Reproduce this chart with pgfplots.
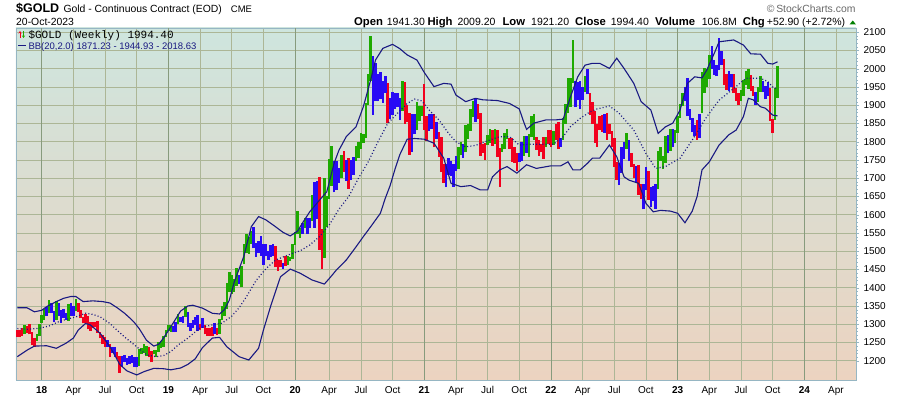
\documentclass[border=0pt]{standalone}
\usepackage{fontspec}
\setmainfont{Liberation Sans}
\newfontfamily\monofont{Liberation Mono}
\usepackage{pgfplots}
\usepackage{pgfplotstable}
\usetikzlibrary{arrows.meta}
\pgfplotsset{compat=1.18}
\definecolor{gbar}{RGB}{30,170,0}
\definecolor{rbar}{RGB}{242,0,30}
\definecolor{bbar}{RGB}{40,10,245}
\definecolor{bandc}{RGB}{25,25,130}
\definecolor{bgtop}{RGB}{206,229,222}
\definecolor{bgmid}{RGB}{241,231,170}
\definecolor{bgbot}{RGB}{236,211,192}
\definecolor{gridc}{RGB}{172,182,150}
\definecolor{yearc}{RGB}{135,155,125}
\definecolor{axisc}{RGB}{150,182,195}
\definecolor{graytxt}{RGB}{105,105,105}
\definecolor{tri}{RGB}{0,128,0}
% c: 1 = green (up), 2 = red (down), 3 = blue (neutral)
\pgfplotstableread{
i h l c
0 1283 1264 2
1 1285 1266 2
2 1290 1268 2
3 1298 1272 1
4 1296 1275 2
5 1300 1272 2
6 1280 1244 2
7 1262 1238 2
8 1272 1254 1
9 1300 1268 1
10 1326 1302 1
11 1341 1311 1
12 1346 1322 3
13 1366 1330 1
14 1358 1331 3
15 1337 1306 3
16 1364 1311 1
17 1357 1323 3
18 1340 1303 3
19 1343 1318 3
20 1330 1312 3
21 1356 1310 1
22 1358 1323 3
23 1350 1322 3
24 1369 1335 1
25 1357 1334 2
26 1339 1316 2
27 1319 1302 2
28 1328 1304 2
29 1322 1286 2
30 1307 1282 2
31 1306 1290 2
32 1306 1291 2
33 1310 1276 2
34 1279 1261 2
35 1271 1246 2
36 1265 1237 2
37 1258 1238 3
38 1246 1211 2
39 1237 1222 3
40 1237 1211 3
41 1224 1206 2
42 1212 1167 2
43 1214 1183 3
44 1215 1196 3
45 1207 1189 3
46 1214 1190 3
47 1215 1194 3
48 1211 1183 3
49 1209 1182 3
50 1233 1186 1
51 1236 1218 1
52 1245 1222 1
53 1240 1212 1
54 1238 1209 2
55 1226 1196 2
56 1230 1218 1
57 1230 1211 1
58 1252 1225 1
59 1253 1236 1
60 1268 1238 1
61 1285 1264 1
62 1299 1281 1
63 1298 1280 1
64 1296 1278 3
65 1305 1278 3
66 1327 1300 1
67 1321 1306 3
68 1323 1302 3
69 1349 1320 1
70 1334 1293 3
71 1302 1281 3
72 1312 1290 3
73 1321 1297 3
74 1326 1281 3
75 1300 1285 2
76 1316 1289 3
77 1297 1272 2
78 1290 1268 2
79 1290 1267 2
80 1292 1269 2
81 1303 1273 3
82 1289 1270 2
83 1313 1274 1
84 1349 1311 1
85 1360 1323 1
86 1412 1343 1
87 1442 1389 1
88 1434 1383 1
89 1425 1389 1
90 1453 1405 1
91 1435 1411 3
92 1459 1401 1
93 1520 1464 1
94 1546 1495 1
95 1540 1493 1
96 1555 1520 1
97 1566 1508 3
98 1523 1485 3
99 1527 1496 3
100 1542 1488 3
101 1520 1463 3
102 1519 1486 3
103 1501 1477 3
104 1518 1484 3
105 1520 1488 3
106 1514 1456 2
107 1475 1446 2
108 1477 1456 2
109 1468 1452 3
110 1487 1459 2
111 1486 1461 1
112 1485 1473 1
113 1519 1480 1
114 1553 1518 1
115 1611 1546 1
116 1563 1536 1
117 1576 1547 3
118 1592 1564 1
119 1590 1548 3
120 1591 1565 3
121 1653 1584 1
122 1691 1565 3
123 1692 1588 3
124 1704 1504 2
125 1560 1451 2
126 1700 1482 1
127 1650 1567 1
128 1753 1644 1
129 1788 1680 1
130 1747 1661 3
131 1747 1669 3
132 1729 1688 3
133 1765 1700 1
134 1775 1718 2
135 1750 1693 3
136 1755 1671 2
137 1750 1695 3
138 1758 1709 3
139 1789 1748 1
140 1800 1756 1
141 1825 1779 1
142 1820 1796 1
143 1905 1810 1
144 1985 1900 1
145 2089 1966 1
146 2036 1874 3
147 2015 1911 3
148 1987 1911 3
149 1992 1916 3
150 1967 1907 3
151 1981 1934 3
152 1960 1851 2
153 1920 1862 3
154 1936 1873 3
155 1933 1890 3
156 1934 1894 3
157 1920 1859 3
158 1966 1885 1
159 1965 1849 2
160 1900 1855 2
161 1879 1764 2
162 1875 1772 3
163 1876 1820 3
164 1908 1831 1
165 1897 1856 1
166 1898 1870 1
167 1959 1832 2
168 1870 1803 2
169 1876 1830 3
170 1875 1834 3
171 1875 1785 2
172 1855 1808 3
173 1826 1759 2
174 1814 1717 2
175 1740 1687 2
176 1740 1676 3
177 1755 1710 3
178 1748 1705 3
179 1740 1677 3
180 1760 1720 3
181 1785 1724 1
182 1798 1763 1
183 1793 1756 3
184 1845 1771 1
185 1849 1808 1
186 1890 1829 1
187 1913 1867 1
188 1919 1855 3
189 1904 1862 2
190 1880 1761 2
191 1795 1769 2
192 1797 1750 2
193 1818 1790 1
194 1834 1796 1
195 1833 1789 2
196 1834 1794 1
197 1832 1759 2
198 1784 1677 2
199 1795 1773 1
200 1823 1779 1
201 1836 1807 1
202 1810 1781 2
203 1809 1745 2
204 1786 1742 2
205 1770 1721 2
206 1770 1745 3
207 1800 1747 3
208 1815 1762 1
209 1815 1770 3
210 1820 1758 1
211 1870 1812 1
212 1877 1805 1
213 1813 1778 2
214 1806 1762 2
215 1793 1771 2
216 1813 1753 2
217 1814 1787 1
218 1831 1794 2
219 1831 1785 2
220 1830 1791 1
221 1848 1806 2
222 1854 1780 2
223 1809 1785 3
224 1865 1805 1
225 1904 1850 1
226 1976 1878 1
227 1975 1895 1
228 2079 1961 1
229 1967 1895 3
230 1965 1914 3
231 1967 1890 3
232 1949 1915 3
233 1980 1937 1
234 2000 1930 3
235 1935 1872 2
236 1909 1850 2
237 1885 1797 2
238 1850 1786 2
239 1870 1832 2
240 1874 1828 2
241 1876 1825 3
242 1880 1805 2
243 1848 1822 2
244 1830 1785 2
245 1811 1732 2
246 1745 1696 2
247 1742 1681 3
248 1785 1715 3
249 1800 1754 3
250 1824 1780 1
251 1805 1747 3
252 1770 1731 2
253 1740 1700 2
254 1733 1691 3
255 1735 1655 2
256 1683 1643 2
257 1683 1615 3
258 1730 1667 3
259 1720 1641 2
260 1675 1621 3
261 1680 1638 3
262 1684 1616 3
263 1774 1670 1
264 1786 1747 1
265 1762 1725 1
266 1816 1742 1
267 1819 1768 3
268 1835 1776 1
269 1836 1785 3
270 1833 1797 1
271 1871 1825 1
272 1903 1865 1
273 1935 1898 1
274 1950 1911 3
275 1975 1870 3
276 1890 1861 3
277 1866 1826 3
278 1846 1815 3
279 1860 1806 2
280 1876 1810 3
281 1991 1880 1
282 2003 1934 1
283 2000 1949 1
284 2039 1972 1
285 2063 1999 3
286 2023 1983 3
287 2010 1980 3
288 2085 1996 3
289 2048 2010 3
290 2027 1955 2
291 1987 1942 2
292 1995 1938 3
293 1985 1950 3
294 1985 1934 2
295 1947 1912 2
296 1935 1900 2
297 1941 1912 1
298 1968 1926 1
299 1995 1956 1
300 2000 1945 1
301 1982 1939 2
302 1952 1925 2
303 1936 1902 3
304 1949 1910 1
305 1980 1937 1
306 1967 1937 3
307 1952 1916 3
308 1965 1925 3
309 1948 1858 2
310 1863 1823 2
311 1947 1860 1
312 2009 1921 1
}\bars
\pgfplotstableread{
i v
0 1345
4 1345
7 1334
10 1338
12 1348
16 1362
19 1371
22 1376
24 1376
27 1362
31 1364
35 1362
38 1358
41 1345
44 1330
46 1318
48 1305
50 1288
53 1256
56 1240
58 1245
60 1262
63 1293
67 1336
70 1350
72 1352
76 1344
80 1330
83 1328
85 1340
87 1366
89 1415
93 1487
96 1567
99 1595
102 1586
106 1567
109 1552
112 1542
115 1555
117 1577
120 1608
124 1640
127 1663
130 1741
132 1777
135 1814
139 1841
142 1896
145 1969
147 2024
150 2056
154 2067
157 2055
160 2038
164 2024
167 1990
171 1951
175 1960
178 1958
180 1928
184 1910
188 1919
191 1915
197 1913
202 1905
206 1890
208 1851
209 1834
212 1851
217 1860
221 1860
224 1862
227 1923
230 1978
233 2010
236 2015
239 2015
243 2001
246 2029
249 2001
253 1960
256 1910
260 1887
263 1823
266 1841
269 1851
272 1887
275 1960
278 1978
281 1975
283 1997
286 2042
288 2074
294 2079
298 2065
301 2041
305 2040
308 2015
310 2013
312 2019
}\bbup
\pgfplotstableread{
i v
0 1288
4 1286
9 1289
13 1295
17 1307
21 1315
24 1320
28 1330
31 1327
34 1320
38 1302
41 1283
44 1265
49 1238
53 1216
57 1211
60 1214
63 1225
66 1243
70 1262
75 1290
80 1298
84 1303
88 1322
91 1345
94 1375
98 1420
102 1452
106 1476
112 1492
116 1501
120 1517
124 1540
128 1572
132 1615
136 1650
140 1700
144 1745
148 1800
152 1850
156 1878
160 1905
163 1917
166 1912
169 1887
173 1860
177 1823
180 1800
184 1786
188 1790
194 1805
198 1814
202 1814
206 1791
210 1793
214 1793
220 1793
224 1814
227 1841
231 1864
235 1882
238 1890
243 1898
247 1878
253 1832
258 1768
262 1727
266 1732
272 1755
277 1805
283 1869
288 1914
294 1946
299 1974
305 1974
308 1965
310 1950
312 1945
}\bbmid
\pgfplotstableread{
i v
0 1211
4 1229
7 1240
12 1241
16 1234
20 1248
23 1262
25 1284
28 1302
30 1298
34 1275
38 1238
40 1215
42 1190
45 1172
49 1161
52 1170
56 1179
60 1178
63 1175
67 1180
70 1190
73 1205
76 1236
80 1262
83 1264
86 1238
91 1211
95 1202
99 1234
101 1284
104 1350
108 1430
112 1451
116 1440
121 1421
126 1410
128 1425
131 1449
135 1476
139 1512
142 1540
145 1567
149 1604
151 1645
153 1680
155 1725
157 1765
160 1807
163 1809
167 1807
171 1796
175 1755
178 1686
182 1677
186 1680
190 1668
193 1668
195 1704
198 1723
201 1732
205 1714
209 1737
213 1727
219 1734
223 1734
226 1745
228 1723
231 1723
234 1741
236 1755
239 1755
243 1791
246 1759
249 1704
251 1695
255 1686
258 1631
261 1608
264 1612
268 1610
271 1604
274 1578
277 1610
279 1650
281 1723
284 1745
288 1791
292 1819
295 1832
298 1869
300 1919
302 1915
305 1896
307 1892
310 1873
312 1871
}\bblow
\pgfplotsset{
  ohlc/.style 2 args={mark=none, line width=2.5pt, draw=#2,
    quiver={u=0, v=\thisrow{h}-\thisrow{l}},
    restrict expr to domain={\thisrow{c}}{#1:#1}},
}
\begin{document}
\begin{tikzpicture}[x=1pt,y=1pt]
\path[use as bounding box] (0,0) rectangle (900,396);
\fill[white] (0,0) rectangle (900,396);
\begin{axis}[
  at={(16pt,16pt)}, anchor=south west,
  scale only axis, width=840pt, height=352pt,
  xmin=-0.55, xmax=344.2, ymin=1147.1, ymax=2111.8,
  axis background/.style={shade, top color=bgtop, middle color=bgmid, bottom color=bgbot},
  axis line style={draw=axisc, line width=0.8pt},
  xtick={10,23,36,49,62,75,88,101,114,128,141,154,167,180,193,206,219,232,245,258,271,284,297,310,323,336},
  xticklabels={\textbf{18},Apr,Jul,Oct,\textbf{19},Apr,Jul,Oct,\textbf{20},Apr,Jul,Oct,\textbf{21},Apr,Jul,Oct,\textbf{22},Apr,Jul,Oct,\textbf{23},Apr,Jul,Oct,\textbf{24},Apr},
  extra x ticks={10,62,114,167,219,271,323},
  extra x tick labels={},
  extra x tick style={grid style={draw=yearc, line width=0.9pt}},
  ytick={1200,1250,...,2100},
  minor y tick num=4,
  yticklabel pos=right, ytick pos=right,
  xtick pos=bottom,
  tick align=outside,
  xtick style={draw=none},
  ytick style={draw=axisc},
  major tick length=3pt, minor tick length=1.5pt,
  grid=major,
  grid style={draw=gridc, line width=0.7pt},
  scaled y ticks=false,
  /pgf/number format/1000 sep={},
  /pgf/number format/assume math mode=true,
  tick label style={font=\fontsize{10}{12}\selectfont},
  yticklabel style={xshift=1pt},
  clip=true,
]
\addplot[ohlc={1}{gbar}] table[x=i, y=l] {\bars};
\addplot[ohlc={2}{rbar}] table[x=i, y=l] {\bars};
\addplot[ohlc={3}{bbar}] table[x=i, y=l] {\bars};
\addplot[bandc, line width=1.1pt, mark=none] table[x=i, y=v] {\bbup};
\addplot[bandc, line width=1.1pt, mark=none] table[x=i, y=v] {\bblow};
\addplot[bandc, line width=1.2pt, dash pattern=on 1pt off 2.2pt, mark=none] table[x=i, y=v] {\bbmid};
\end{axis}
% header texts
\node[anchor=base west, inner sep=0pt, font=\fontsize{12.5}{14}\selectfont\bfseries] at (16,383.3) {\$GOLD};
\node[anchor=base west, inner sep=0pt, font=\fontsize{10.4}{12}\selectfont] at (63.3,383.3) {Gold - Continuous Contract (EOD)};
\node[anchor=base west, inner sep=0pt, font=\fontsize{9.5}{11}\selectfont] at (230.7,383.3) {CME};
\node[anchor=base west, inner sep=0pt, font=\fontsize{10.4}{12}\selectfont] at (16,370) {20-Oct-2023};
\node[anchor=base west, inner sep=0pt, font=\fontsize{10.4}{12}\selectfont, text=graytxt] at (766.7,383.3) {\textcopyright\,StockCharts.com};
\begin{scope}[every node/.style={anchor=base west, inner sep=0pt}]
\node[font=\fontsize{11.3}{13}\selectfont\bfseries] at (354,370) {Open};
\node[font=\fontsize{10.5}{12}\selectfont] at (386.7,370) {1941.30};
\node[font=\fontsize{11.3}{13}\selectfont\bfseries] at (427.3,370) {High};
\node[font=\fontsize{10.5}{12}\selectfont] at (457.3,370) {2009.20};
\node[font=\fontsize{11.3}{13}\selectfont\bfseries] at (502.3,370) {Low};
\node[font=\fontsize{10.5}{12}\selectfont] at (531,370) {1921.20};
\node[font=\fontsize{11.3}{13}\selectfont\bfseries] at (575,370) {Close};
\node[font=\fontsize{10.5}{12}\selectfont] at (610.7,370) {1994.40};
\node[font=\fontsize{11.3}{13}\selectfont\bfseries] at (655,370) {Volume};
\node[font=\fontsize{10.5}{12}\selectfont] at (701.7,370) {106.8M};
\node[font=\fontsize{11.3}{13}\selectfont\bfseries] at (742.7,370) {Chg};
\node[font=\fontsize{10.5}{12}\selectfont] at (766.7,370) {+52.90 (+2.72\%)};
\end{scope}
\fill[tri] (849.5,371.5) -- (856,371.5) -- (852.75,375.5) -- cycle;
% legend
\draw[rbar, line width=0.9pt, -{Stealth[length=2.5pt,width=3pt]}] (20,358) -- (20,365);
\draw[gbar, line width=0.9pt, -{Stealth[length=2.5pt,width=3pt]}] (23.5,365) -- (23.5,358);
\node[anchor=base west, inner sep=0pt, font=\fontsize{11}{13}\selectfont\monofont] at (28.3,357.7) {\$GOLD (Weekly) 1994.40};
\draw[bandc, line width=1.6pt] (18,350.3) -- (25.5,350.3);
\node[anchor=base west, inner sep=0pt, text=bandc, font=\fontsize{9.5}{11}\selectfont] at (28.3,346.6) {BB(20,2.0) 1871.23 - 1944.93 - 2018.63};
\end{tikzpicture}
\end{document}
